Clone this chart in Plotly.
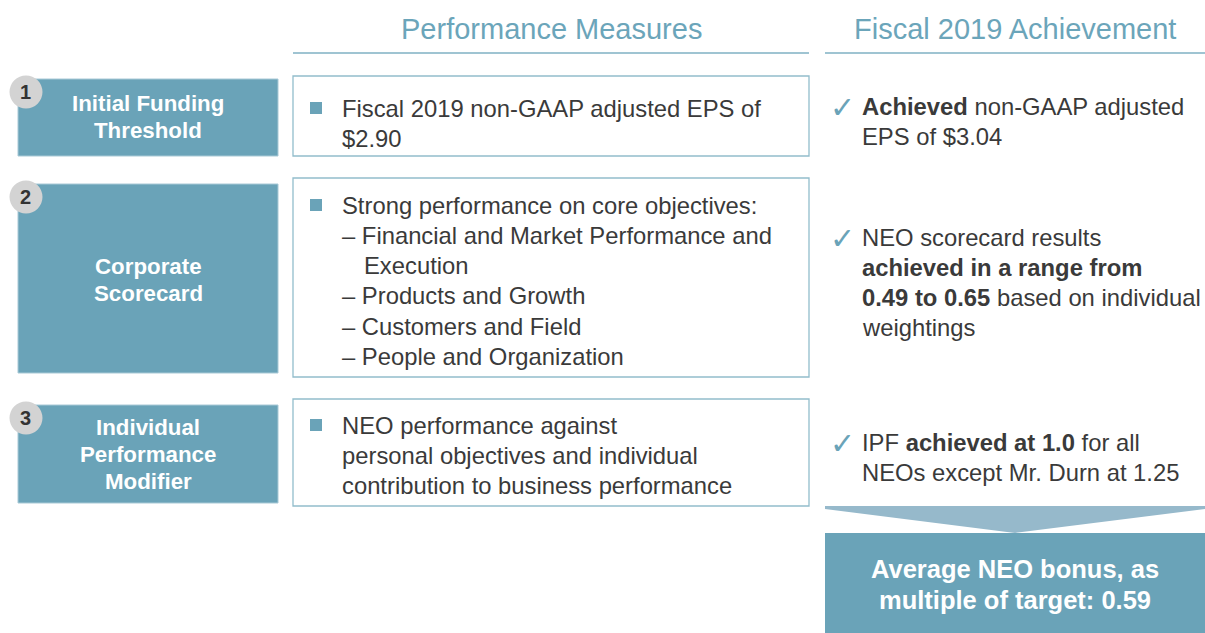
import plotly.graph_objects as go

# ---------------- content ----------------
header_titles = ["Performance Measures", "Fiscal 2019 Achievement"]
step_numbers = ["1", "2", "3"]
step_labels = [
    ["Initial Funding", "Threshold"],
    ["Corporate", "Scorecard"],
    ["Individual", "Performance", "Modifier"],
]
# (kind, text): 0 = bulleted first line, 1 = continuation / dash item, 2 = dash-item continuation
measure_lines = [
    [(0, "Fiscal 2019 non-GAAP adjusted EPS of"), (1, "$2.90")],
    [(0, "Strong performance on core objectives:"),
     (1, "– Financial and Market Performance and"),
     (2, "Execution"),
     (1, "– Products and Growth"),
     (1, "– Customers and Field"),
     (1, "– People and Organization")],
    [(0, "NEO performance against"),
     (1, "personal objectives and individual"),
     (1, "contribution to business performance")],
]
achievement_lines = [
    ["<b>Achieved</b> non-GAAP adjusted", "EPS of $3.04"],
    ["NEO scorecard results", "<b>achieved in a range from</b>",
     "<b>0.49 to 0.65</b> based on individual", "weightings"],
    ["IPF <b>achieved at 1.0</b> for all", "NEOs except Mr. Durn at 1.25"],
]
result_lines = ["Average NEO bonus, as", "multiple of target: 0.59"]

# ---------------- layout / style ----------------
W, H = 1205, 633
TEAL = "#6aa3b8"
HEAD = "#6ba5ba"
ARROW = "#96b9cb"
BORDER = "#92bdcc"
TXT = "#3a3a3a"
CIRC = "#d3d3d3"
FONT = "Liberation Sans, Arial, sans-serif"
LINE = 30.3
BODY = 23.8

left_x = (18, 278)
left_y = [(79, 156), (184, 373), (405, 503)]
label_y0 = [103, 266, 427]
label_step = 27.3
circle_y = [92, 197, 418]
mid_x = (293, 809)
mid_y = [(76, 156), (178, 377), (399, 506)]
meas_y0 = [108, 205, 425]
ach_y0 = [106, 237, 442]

fig = go.Figure()
fig.add_trace(go.Scatter(x=[0, W], y=[0, H], mode="markers",
                         marker=dict(opacity=0), hoverinfo="skip", showlegend=False))

shapes = []
ann = []

def text(x, y, s, size, color, xanchor="left", bold=False):
    ann.append(dict(x=x, y=y, xref="x", yref="y", text=(f"<b>{s}</b>" if bold else s),
                    showarrow=False, xanchor=xanchor, yanchor="middle",
                    font=dict(family=FONT, size=size, color=color)))

# headers
for title, (x0, x1) in zip(header_titles, [mid_x, (825, 1205)]):
    text((x0 + x1) / 2, 29, title, 29, HEAD, xanchor="center")
    shapes.append(dict(type="line", xref="x", yref="y", x0=x0, x1=x1, y0=53, y1=53,
                       line=dict(color="#7fb1c3", width=1.5)))

for i in range(3):
    # left teal box
    y0, y1 = left_y[i]
    shapes.append(dict(type="rect", xref="x", yref="y", x0=left_x[0], x1=left_x[1], y0=y0, y1=y1,
                       fillcolor=TEAL, line=dict(color="#a8c9d6", width=1), layer="below"))
    for j, lab in enumerate(step_labels[i]):
        text((left_x[0] + left_x[1]) / 2, label_y0[i] + j * label_step, lab, 22.3, "white",
             xanchor="center", bold=True)
    # number circle
    cy = circle_y[i]
    shapes.append(dict(type="circle", xref="x", yref="y", x0=9.5, x1=42.5, y0=cy - 16.5, y1=cy + 16.5,
                       fillcolor=CIRC, line=dict(width=0)))
    text(25.5, cy, step_numbers[i], 20, "#333333", xanchor="center", bold=True)

    # middle bordered box
    y0, y1 = mid_y[i]
    shapes.append(dict(type="rect", xref="x", yref="y", x0=mid_x[0], x1=mid_x[1], y0=y0, y1=y1,
                       fillcolor="white", line=dict(color=BORDER, width=1.3)))
    for j, (kind, s) in enumerate(measure_lines[i]):
        y = meas_y0[i] + j * LINE
        if kind == 0:
            shapes.append(dict(type="rect", xref="x", yref="y", x0=310, x1=322, y0=y - 6, y1=y + 6,
                               fillcolor=TEAL, line=dict(width=0)))
        x = 362 if kind == 2 else 340
        text(x, y, s, BODY, TXT)

    # achievements
    for j, s in enumerate(achievement_lines[i]):
        y = ach_y0[i] + j * LINE
        if j == 0:
            text(828, y + 1, "✓", 30, TEAL)
        text(860, y, s, BODY, TXT)

# arrow and result box
shapes.append(dict(type="path", xref="x", yref="y",
                   path="M 825 506 L 1205 506 L 1205 509 L 1015 533 L 825 509 Z",
                   fillcolor=ARROW, line=dict(width=0)))
shapes.append(dict(type="rect", xref="x", yref="y", x0=825, x1=1205, y0=533, y1=H,
                   fillcolor=TEAL, line=dict(width=0)))
for j, s in enumerate(result_lines):
    text(1015, 569 + j * 31, s, 25.5, "white", xanchor="center", bold=True)

fig.update_layout(
    width=W, height=H, margin=dict(l=0, r=0, t=0, b=0),
    paper_bgcolor="white", plot_bgcolor="white",
    xaxis=dict(range=[0, W], visible=False, fixedrange=True),
    yaxis=dict(range=[H, 0], visible=False, fixedrange=True),
    shapes=shapes, annotations=ann, showlegend=False,
)
fig.write_html("out.html", config={"displayModeBar": False},
               post_script="document.body.style.margin='0';document.body.style.overflow='hidden';")
